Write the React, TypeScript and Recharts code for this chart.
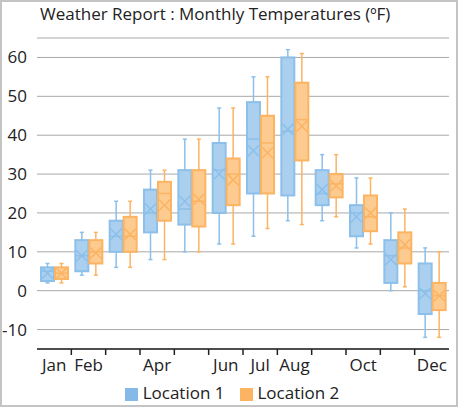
import { Bar, CartesianGrid, ComposedChart, Legend, XAxis, YAxis } from "recharts";

const months = ["Jan", "Feb", "Mar", "Apr", "May", "Jun", "Jul", "Aug", "Sep", "Oct", "Nov", "Dec"];
// labels the original shows under the axis (the others are dropped for lack of room)
const monthLabels = ["Jan", "Feb", "", "Apr", "", "Jun", "Jul", "Aug", "", "Oct", "", "Dec"];
const yTicks = [-10, 0, 10, 20, 30, 40, 50, 60];

const loc1Min = [2, 4, 6, 8, 10, 12, 14, 18, 18, 11, 0, -12];
const loc1Q1 = [2.5, 5, 10, 15, 17, 20, 25, 24.5, 22, 14, 2, -6];
const loc1Median = [5, 9, 14, 20, 21, 31, 39, 41, 25, 20, 9, 0];
const loc1Q3 = [6, 13, 18, 26, 31, 38, 48.5, 60, 31, 22, 13, 7];
const loc1Max = [7, 15, 23, 31, 39, 47, 55, 62, 35, 29, 20, 11];
const loc1Mean = [4.5, 9, 14.5, 21, 23, 30, 36, 41.5, 26, 19, 8, -0.7];

const loc2Min = [2, 4, 6, 8, 10, 12, 16, 17, 19, 12, 1, -12];
const loc2Q1 = [3, 7, 10, 18, 16.5, 22, 25, 33.5, 24, 15.3, 7, -5];
const loc2Median = [4.5, 10, 14, 25, 23, 30, 38, 44, 27.5, 19, 11, -1.3];
const loc2Q3 = [6, 13, 19, 28, 31, 34, 45, 53.5, 30, 24.5, 15, 2];
const loc2Max = [7, 15, 23, 31, 39, 47, 55, 61, 35, 29, 21, 10];
const loc2Mean = [4.5, 9.7, 14.5, 22, 23.5, 28.5, 35.5, 42.3, 27, 20, 11.8, -1.3];

const data = months.map((month, i) => ({
  month,
  loc1: [loc1Min[i], loc1Max[i]],
  loc2: [loc2Min[i], loc2Max[i]],
}));

const FONT = "'Open Sans', 'Noto Sans', sans-serif";
const FS = 17;

type Series = {
  min: number[];
  q1: number[];
  median: number[];
  q3: number[];
  max: number[];
  mean: number[];
  fill: string;
  stroke: string;
};

const series1: Series = {
  min: loc1Min, q1: loc1Q1, median: loc1Median, q3: loc1Q3, max: loc1Max, mean: loc1Mean,
  fill: "#abd0ef", stroke: "#8cbfe9",
};
const series2: Series = {
  min: loc2Min, q1: loc2Q1, median: loc2Median, q3: loc2Q3, max: loc2Max, mean: loc2Mean,
  fill: "#fdca90", stroke: "#fbb462",
};

// whisker-to-whisker range comes from the bar, the rest is placed on the same scale
const boxShape = (s: Series) => (props: any) => {
  const { x, y, width, height, index } = props;
  const hi = s.max[index];
  const lo = s.min[index];
  const top = Math.min(y, y + height);
  const span = Math.abs(height);
  const yOf = (v: number) => top + ((hi - v) * span) / (hi - lo || 1);
  const cx = x + width / 2;
  const yq3 = yOf(s.q3[index]);
  const yq1 = yOf(s.q1[index]);
  const ym = yOf(s.median[index]);
  const ya = yOf(s.mean[index]);
  const hx = width / 2 - 1;
  return (
    <g>
      <line x1={cx} x2={cx} y1={yOf(hi)} y2={yOf(lo)} stroke={s.stroke} strokeWidth={1.5} />
      <line x1={cx - 2} x2={cx + 2} y1={yOf(hi)} y2={yOf(hi)} stroke={s.stroke} strokeWidth={1.5} />
      <line x1={cx - 2} x2={cx + 2} y1={yOf(lo)} y2={yOf(lo)} stroke={s.stroke} strokeWidth={1.5} />
      <rect x={x} y={yq3} width={width} height={yq1 - yq3} fill={s.fill} stroke={s.stroke} strokeWidth={2} />
      <line x1={x} x2={x + width} y1={ym} y2={ym} stroke={s.stroke} strokeWidth={1.5} />
      <path
        d={`M${cx - hx},${ya - 5.5}L${cx + hx},${ya + 5.5}M${cx - hx},${ya + 5.5}L${cx + hx},${ya - 5.5}`}
        stroke={s.stroke}
        strokeWidth={1.5}
        fill="none"
      />
    </g>
  );
};

const MonthTick = (props: any) => {
  const { x, y, payload, index } = props;
  const half = payload?.offset ?? 17;
  const axisY = y - 10;
  return (
    <g>
      {index > 0 && (
        <line x1={x - half} x2={x - half} y1={axisY} y2={axisY + 6} stroke="#222" strokeWidth={1.5} />
      )}
      <text x={x} y={y} dy="0.71em" textAnchor="middle" fill="#222" fontSize={FS} fontFamily={FONT}>
        {monthLabels[index]}
      </text>
    </g>
  );
};

export default function App() {
  return (
    <div
      style={{
        position: "fixed",
        left: 0,
        top: 0,
        width: 458,
        height: 407,
        boxSizing: "border-box",
        border: "2px solid #c4c4c4",
        background: "#fff",
        fontFamily: FONT,
      }}
    >
      <div
        style={{
          position: "absolute",
          left: 38,
          top: 1,
          fontSize: FS,
          lineHeight: "22px",
          color: "#222",
          whiteSpace: "nowrap",
        }}
      >
        Weather Report : Monthly Temperatures (ºF)
      </div>
      <div style={{ position: "absolute", left: 0, top: 0 }}>
        <ComposedChart
          width={454}
          height={403}
          data={data}
          margin={{ top: 36, right: 7, left: 0, bottom: 1 }}
          barCategoryGap={4}
          barGap={1}
        >
          <CartesianGrid vertical={false} stroke="#a8a8a8" />
          <XAxis
            dataKey="month"
            interval={0}
            tickLine={false}
            tickSize={6}
            tickMargin={4}
            height={32}
            axisLine={{ stroke: "#222", strokeWidth: 1.5 }}
            tick={<MonthTick />}
          />
          <YAxis
            domain={[-15, 65]}
            ticks={yTicks}
            width={35}
            axisLine={false}
            tickLine={false}
            tickMargin={4}
            tick={{ fill: "#222", fontSize: FS, fontFamily: FONT }}
          />
          <Legend
            verticalAlign="bottom"
            iconType="square"
            iconSize={13}
            wrapperStyle={{ paddingLeft: 14 }}
            formatter={(v: string) => (
              <span style={{ color: "#222", fontSize: FS, fontFamily: FONT, paddingLeft: 1, paddingRight: 5 }}>
                {v}
              </span>
            )}
          />
          <Bar dataKey="loc1" name="Location 1" fill="#85b9e7" shape={boxShape(series1)} isAnimationActive={false} />
          <Bar dataKey="loc2" name="Location 2" fill="#fdb462" shape={boxShape(series2)} isAnimationActive={false} />
        </ComposedChart>
      </div>
    </div>
  );
}
